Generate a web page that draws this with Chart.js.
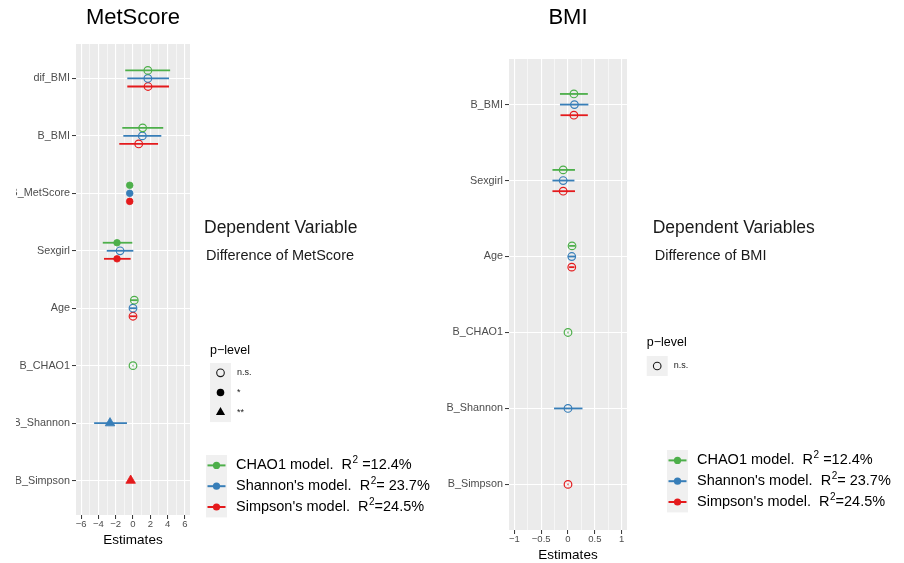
<!DOCTYPE html>
<html>
<head>
<meta charset="utf-8">
<script src="https://cdn.jsdelivr.net/npm/chart.js@4/dist/chart.umd.min.js"></script>
<style>
  html, body { margin: 0; padding: 0; background: #ffffff; }
  #page { position: relative; width: 904px; height: 563px; overflow: hidden; }
  .panel { position: absolute; top: 0; height: 563px; overflow: hidden; }
</style>
</head>
<body>
<div id="page">
  <div class="panel" style="left:16px;width:424px"><canvas id="metChart"></canvas></div>
  <div class="panel" style="left:440px;width:464px"><canvas id="bmiChart"></canvas></div>
</div>
<script>
const GREEN = '#4DAF4A';
const BLUE = '#377EB8';
const RED = '#E41A1C';
const FONT = '"Liberation Sans", Arial, Helvetica, sans-serif';

// ---- MetScore panel ----
const metCategories = ['dif_BMI', 'B_BMI', 'B_MetScore', 'Sexgirl', 'Age', 'B_CHAO1', 'B_Shannon', 'B_Simpson'];
const metChaoEst   = [1.72, 1.12, -0.38, -1.85, 0.15, 0.0, null, null];
const metChaoLow   = [-0.9, -1.24, -0.48, -3.5, -0.25, -0.06, null, null];
const metChaoHigh  = [4.3, 3.5, -0.28, -0.08, 0.55, 0.06, null, null];
const metChaoSig   = ['n.s.', 'n.s.', '*', '*', 'n.s.', 'n.s.', null, null];
const metShanEst   = [1.72, 1.08, -0.38, -1.5, 0.0, null, -2.66, null];
const metShanLow   = [-0.66, -1.12, -0.48, -3.04, -0.4, null, -4.5, null];
const metShanHigh  = [4.17, 3.28, -0.28, 0.04, 0.4, null, -0.7, null];
const metShanSig   = ['n.s.', 'n.s.', '*', 'n.s.', 'n.s.', null, '**', null];
const metSimpEst   = [1.74, 0.66, -0.38, -1.85, 0.0, null, null, -0.27];
const metSimpLow   = [-0.66, -1.59, -0.48, -3.36, -0.35, null, null, -0.45];
const metSimpHigh  = [4.17, 2.9, -0.28, -0.27, 0.35, null, null, -0.1];
const metSimpSig   = ['n.s.', 'n.s.', '*', '*', 'n.s.', null, null, '**'];
const metTicks = [-6, -5, -4, -3, -2, -1, 0, 1, 2, 3, 4, 5, 6];
const metMajorTicks = [-6, -4, -2, 0, 2, 4, 6];

// ---- BMI panel ----
const bmiCategories = ['B_BMI', 'Sexgirl', 'Age', 'B_CHAO1', 'B_Shannon', 'B_Simpson'];
const bmiChaoEst   = [0.11, -0.09, 0.075, 0.0, null, null];
const bmiChaoLow   = [-0.15, -0.29, 0.02, -0.01, null, null];
const bmiChaoHigh  = [0.37, 0.13, 0.13, 0.01, null, null];
const bmiChaoSig   = ['n.s.', 'n.s.', 'n.s.', 'n.s.', null, null];
const bmiShanEst   = [0.12, -0.09, 0.07, null, 0.0, null];
const bmiShanLow   = [-0.15, -0.29, 0.0, null, -0.26, null];
const bmiShanHigh  = [0.38, 0.12, 0.14, null, 0.27, null];
const bmiShanSig   = ['n.s.', 'n.s.', 'n.s.', null, 'n.s.', null];
const bmiSimpEst   = [0.11, -0.09, 0.07, null, null, 0.0];
const bmiSimpLow   = [-0.14, -0.29, 0.02, null, null, -0.01];
const bmiSimpHigh  = [0.37, 0.13, 0.12, null, null, 0.01];
const bmiSimpSig   = ['n.s.', 'n.s.', 'n.s.', null, null, 'n.s.'];
const bmiTicks = [-1, -0.75, -0.5, -0.25, 0, 0.25, 0.5, 0.75, 1];
const bmiMajorTicks = [-1, -0.5, 0, 0.5, 1];

// ---- legends ----
const metPLevels = ['n.s.', '*', '**'];
const bmiPLevels = ['n.s.'];
const modelLabels = ['CHAO1 model.  R', "Shannon's model.  R", "Simpson's model.  R"];
const modelR2 = [' =12.4%', '= 23.7%', '=24.5%'];
const modelColors = [GREEN, BLUE, RED];

const DODGE = 0.14;
const sigStyle = {
  'n.s.': { pointStyle: 'circle', radius: 3.8, filled: false },
  '*':    { pointStyle: 'circle', radius: 3.3, filled: true },
  '**':   { pointStyle: 'triangle', radius: 5.5, filled: true }
};

function fmtTick(v) {
  return v < 0 ? '\u2212' + Math.abs(v) : String(v);
}

function buildDatasets(categories, models) {
  return models.map(m => ({
    label: m.name,
    errorColor: m.color,
    data: categories.map((c, ci) => {
      if (m.est[ci] == null) return null;
      // dodge only among the models that have this term
      const present = models.filter(o => o.est[ci] != null);
      const k = present.indexOf(m);
      return {
        x: m.est[ci],
        y: ci + (k - (present.length - 1) / 2) * DODGE,
        lo: m.low[ci],
        hi: m.high[ci],
        sig: m.sig[ci]
      };
    }).filter(Boolean),
    showLine: false,
    pointStyle: ctx => ctx.raw ? sigStyle[ctx.raw.sig].pointStyle : 'circle',
    pointRadius: ctx => ctx.raw ? sigStyle[ctx.raw.sig].radius : 3.8,
    pointBorderWidth: ctx => ctx.raw && sigStyle[ctx.raw.sig].filled ? 0.8 : 1.2,
    pointBorderColor: m.color,
    pointBackgroundColor: ctx => ctx.raw && sigStyle[ctx.raw.sig].filled ? m.color : 'rgba(0,0,0,0)'
  }));
}

// horizontal confidence bars behind the points
const errorBarPlugin = {
  id: 'errorBars',
  beforeDatasetsDraw(chart) {
    const { ctx, scales: { x, y } } = chart;
    ctx.save();
    ctx.lineWidth = 1.8;
    chart.data.datasets.forEach(ds => {
      ctx.strokeStyle = ds.errorColor;
      ds.data.forEach(p => {
        const py = y.getPixelForValue(p.y);
        ctx.beginPath();
        ctx.moveTo(x.getPixelForValue(p.lo), py);
        ctx.lineTo(x.getPixelForValue(p.hi), py);
        ctx.stroke();
      });
    });
    ctx.restore();
  }
};

const panelBgPlugin = {
  id: 'panelBg',
  beforeDraw(chart) {
    const { ctx, chartArea: a } = chart;
    ctx.save();
    ctx.fillStyle = '#EBEBEB';
    ctx.fillRect(a.left, a.top, a.right - a.left, a.bottom - a.top);
    ctx.restore();
  }
};

function extrasPlugin(cfg) {
  return {
    id: 'panelExtras',
    afterDraw(chart) {
      const { ctx, chartArea: a } = chart;
      const draw = Chart.helpers.drawPoint;
      ctx.save();
      ctx.textBaseline = 'middle';

      // panel title
      ctx.fillStyle = '#000000';
      ctx.textAlign = 'center';
      ctx.font = '22px ' + FONT;
      ctx.fillText(cfg.title, (a.left + a.right) / 2, 18);

      // dependent variable note
      ctx.textAlign = 'left';
      ctx.fillStyle = '#1A1A1A';
      ctx.font = '17.5px ' + FONT;
      ctx.fillText(cfg.depTitle, cfg.depX, 228);
      ctx.font = '14.5px ' + FONT;
      ctx.fillText(cfg.depText, cfg.depX + 2, 256);

      // p-level legend
      const p = cfg.pLegend;
      ctx.fillStyle = '#000000';
      ctx.font = '12.5px ' + FONT;
      ctx.fillText('p\u2212level', p.x, p.titleY);
      ctx.fillStyle = '#F0F0F0';
      ctx.fillRect(p.x, p.top, 21, p.keyH * cfg.pLevels.length);
      cfg.pLevels.forEach((lv, i) => {
        const cy = p.top + p.keyH * (i + 0.5);
        const st = sigStyle[lv];
        ctx.strokeStyle = '#1A1A1A';
        ctx.lineWidth = 1.1;
        ctx.fillStyle = st.filled ? '#000000' : 'rgba(0,0,0,0)';
        draw(ctx, { pointStyle: st.pointStyle, radius: st.pointStyle === 'triangle' ? 5.3 : 3.8, rotation: 0, borderWidth: st.filled ? 0 : 1.1 }, p.x + 10.5, cy);
        ctx.fillStyle = '#1A1A1A';
        ctx.font = '9px ' + FONT;
        ctx.fillText(lv, p.x + 27, cy);
      });

      // model legend
      const m = cfg.mLegend;
      ctx.fillStyle = '#F0F0F0';
      ctx.fillRect(m.x, m.top, 21, m.keyH * modelLabels.length);
      modelLabels.forEach((lab, i) => {
        const cy = m.top + m.keyH * (i + 0.5);
        const cx = m.x + 10.5;
        ctx.strokeStyle = modelColors[i];
        ctx.lineWidth = 2;
        ctx.beginPath();
        ctx.moveTo(cx - 9, cy);
        ctx.lineTo(cx + 9, cy);
        ctx.stroke();
        ctx.fillStyle = modelColors[i];
        draw(ctx, { pointStyle: 'circle', radius: 3.6, rotation: 0, borderWidth: 0 }, cx, cy);
        ctx.fillStyle = '#000000';
        ctx.font = '14.5px ' + FONT;
        let tx = m.x + 30;
        ctx.fillText(lab, tx, cy);
        tx += ctx.measureText(lab).width;
        ctx.font = '10px ' + FONT;
        ctx.fillText('2', tx + 0.5, cy - 5);
        tx += ctx.measureText('2').width + 0.5;
        ctx.font = '14.5px ' + FONT;
        ctx.fillText(modelR2[i], tx, cy);
      });
      ctx.restore();
    }
  };
}

function makePanel(canvasId, cfg) {
  const isMajor = v => cfg.major.some(t => Math.abs(t - v) < 1e-9);
  const datasets = buildDatasets(cfg.categories, cfg.models);
  return new Chart(document.getElementById(canvasId), {
    type: 'scatter',
    data: { datasets: datasets },
    options: {
      responsive: true,
      maintainAspectRatio: false,
      animation: false,
      events: [],
      layout: { padding: { top: cfg.top, right: cfg.rightPad, left: 0, bottom: 0 } },
      plugins: {
        legend: { display: false },
        tooltip: { enabled: false },
        title: { display: false }
      },
      scales: {
        x: {
          type: 'linear',
          min: cfg.xMin,
          max: cfg.xMax,
          afterFit: s => { s.height = cfg.xAxisHeight; },
          afterBuildTicks: s => { s.ticks = cfg.ticks.map(v => ({ value: v })); },
          ticks: {
            autoSkip: false,
            maxRotation: 0,
            padding: 0,
            color: '#4D4D4D',
            font: { size: 9.5, family: FONT },
            callback: v => isMajor(v) ? fmtTick(v) : ''
          },
          grid: {
            color: '#FFFFFF',
            lineWidth: c => c.tick && isMajor(c.tick.value) ? 1.1 : 0.55,
            tickColor: c => c.tick && isMajor(c.tick.value) ? '#333333' : 'rgba(0,0,0,0)',
            tickLength: 4,
            tickWidth: 1
          },
          border: { display: false },
          title: {
            display: true,
            text: 'Estimates',
            color: '#000000',
            font: { size: 13.5, family: FONT, lineHeight: 1 },
            padding: { top: 0, bottom: cfg.titlePad }
          }
        },
        y: {
          type: 'linear',
          reverse: true,
          min: -0.6,
          max: cfg.categories.length - 0.4,
          afterFit: s => { s.width = cfg.yAxisWidth; },
          afterBuildTicks: s => { s.ticks = cfg.categories.map((c, i) => ({ value: i })); },
          ticks: {
            autoSkip: false,
            padding: 2,
            color: '#4D4D4D',
            font: { size: 10.8, family: FONT },
            callback: v => cfg.categories[v]
          },
          grid: {
            color: '#FFFFFF',
            lineWidth: 1.1,
            tickColor: '#333333',
            tickLength: 4,
            tickWidth: 1
          },
          border: { display: false }
        }
      }
    },
    plugins: [panelBgPlugin, errorBarPlugin, extrasPlugin(cfg)]
  });
}

makePanel('metChart', {
  title: 'MetScore',
  categories: metCategories,
  models: [
    { name: 'CHAO1', color: GREEN, est: metChaoEst, low: metChaoLow, high: metChaoHigh, sig: metChaoSig },
    { name: 'Shannon', color: BLUE, est: metShanEst, low: metShanLow, high: metShanHigh, sig: metShanSig },
    { name: 'Simpson', color: RED, est: metSimpEst, low: metSimpLow, high: metSimpHigh, sig: metSimpSig }
  ],
  ticks: metTicks,
  major: metMajorTicks,
  xMin: -6.6,
  xMax: 6.6,
  top: 44,
  rightPad: 250,
  yAxisWidth: 60,
  xAxisHeight: 48,
  titlePad: 15.5,
  depTitle: 'Dependent Variable',
  depText: 'Difference of MetScore',
  depX: 188,
  pLevels: metPLevels,
  pLegend: { x: 194, titleY: 351, top: 363, keyH: 19.7 },
  mLegend: { x: 190, top: 455, keyH: 20.8 }
});

makePanel('bmiChart', {
  title: 'BMI',
  categories: bmiCategories,
  models: [
    { name: 'CHAO1', color: GREEN, est: bmiChaoEst, low: bmiChaoLow, high: bmiChaoHigh, sig: bmiChaoSig },
    { name: 'Shannon', color: BLUE, est: bmiShanEst, low: bmiShanLow, high: bmiShanHigh, sig: bmiShanSig },
    { name: 'Simpson', color: RED, est: bmiSimpEst, low: bmiSimpLow, high: bmiSimpHigh, sig: bmiSimpSig }
  ],
  ticks: bmiTicks,
  major: bmiMajorTicks,
  xMin: -1.1,
  xMax: 1.1,
  top: 59,
  rightPad: 277,
  yAxisWidth: 69,
  xAxisHeight: 33,
  titlePad: 0.5,
  depTitle: 'Dependent Variables',
  depText: 'Difference of BMI',
  depX: 212.7,
  pLevels: bmiPLevels,
  pLegend: { x: 206.7, titleY: 343, top: 356, keyH: 20 },
  mLegend: { x: 227, top: 450, keyH: 20.8 }
});
</script>
</body>
</html>
